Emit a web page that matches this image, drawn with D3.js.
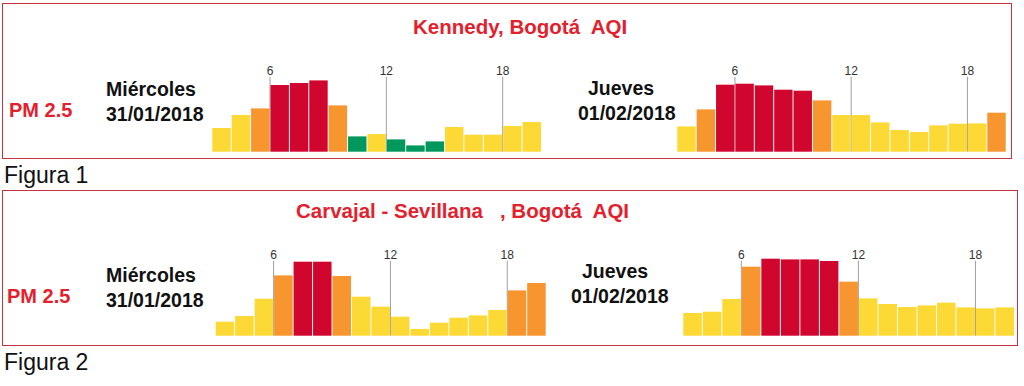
<!DOCTYPE html>
<html>
<head>
<meta charset="utf-8">
<script src="https://cdn.jsdelivr.net/npm/d3@7"></script>
<style>
    body { margin: 0; background: #fff; }
    svg { display: block; font-family: "Liberation Sans", Arial, sans-serif; }
    text { white-space: pre; }
</style>
</head>
<body>
<svg id="chart" width="1024" height="386"></svg>
<script>
// horas mostradas en cada gráfico
const hours = [3, 4, 5, 6, 7, 8, 9, 10, 11, 12, 13, 14, 15, 16, 17, 18, 19];
const tickHours = [6, 12, 18];

// alturas relativas de las barras (índice) y categoría AQI
const kennedyMie = [23.7, 36.7, 43.3, 66.7, 68.7, 71.3, 46.3, 15.3, 17.7, 12.3, 6.3, 10.3, 24.7, 17, 17, 25.7, 29.7];
const kennedyMieCat = ["y", "y", "o", "r", "r", "r", "o", "g", "y", "g", "g", "g", "y", "y", "y", "y", "y"];
const kennedyJue = [25.3, 42.3, 67, 68, 66.3, 62, 61, 51.3, 36.7, 36.7, 29.3, 21.7, 19.7, 26.3, 28, 28.3, 39];
const kennedyJueCat = ["y", "o", "r", "r", "r", "r", "r", "o", "y", "y", "y", "y", "y", "y", "y", "y", "o"];
const carvajalMie = [14, 19.7, 37, 60.3, 74, 74, 59.7, 39, 29, 19, 6.7, 13, 18, 20.3, 25.7, 45.3, 52.7];
const carvajalMieCat = ["y", "y", "y", "o", "r", "r", "o", "y", "y", "y", "y", "y", "y", "y", "y", "o", "o"];
const carvajalJue = [22.7, 24, 36.7, 69, 77, 76.3, 76.3, 74.7, 54, 37.3, 31.7, 28.7, 30.3, 33, 28.3, 27.3, 28.3];
const carvajalJueCat = ["y", "y", "y", "o", "r", "r", "r", "r", "o", "y", "y", "y", "y", "y", "y", "y", "y"];

const catColor = { g: "#00985c", y: "#fcd935", o: "#f7952e", r: "#d1062e" };
const red = "#e3212d";

const svg = d3.select("#chart");

function drawPanel(p) {
    const g = svg.append("g");

    g.append("rect")
        .attr("x", p.box[0] + 0.5)
        .attr("y", p.box[1] + 0.5)
        .attr("width", p.box[2] - p.box[0])
        .attr("height", p.box[3] - p.box[1])
        .attr("fill", "none")
        .attr("stroke", "#c43440")
        .attr("stroke-width", 1);

    g.append("text")
        .attr("x", p.titleX)
        .attr("y", p.titleY)
        .attr("fill", red)
        .attr("font-size", 20.5)
        .attr("font-weight", "bold")
        .text(p.title);

    g.append("text")
        .attr("x", p.pmX)
        .attr("y", p.pmY)
        .attr("fill", red)
        .attr("font-size", 20)
        .attr("font-weight", "bold")
        .text("PM 2.5");

    g.append("text")
        .attr("x", 4)
        .attr("y", p.figY)
        .attr("fill", "#111")
        .attr("font-size", 23)
        .text(p.figura);

    p.days.forEach((d) => drawDay(g, d, p.baseline));
}

function drawDay(g, d, baseline) {
    g.append("text")
        .attr("x", d.labelX)
        .attr("y", d.labelY)
        .attr("fill", "#111")
        .attr("font-size", 19.5)
        .attr("font-weight", "bold")
        .text(d.day);
    g.append("text")
        .attr("x", d.dateX)
        .attr("y", d.labelY + 25)
        .attr("fill", "#111")
        .attr("font-size", 19.5)
        .attr("font-weight", "bold")
        .text(d.date);

    const xScale = d3.scaleBand().domain(hours).range(d.range).paddingInner(0.05);
    const yScale = d3.scaleLinear().domain([0, 80]).range([baseline, baseline - 80]);
    const half = (xScale.step() - xScale.bandwidth()) / 2;

    g.selectAll(null)
        .data(tickHours)
        .join("line")
        .attr("x1", (h) => xScale(h) - half)
        .attr("x2", (h) => xScale(h) - half)
        .attr("y1", baseline - 75)
        .attr("y2", baseline)
        .attr("stroke", "#a0a0a0")
        .attr("stroke-width", 1);

    g.selectAll(null)
        .data(tickHours)
        .join("text")
        .attr("x", (h) => xScale(h) - half)
        .attr("y", baseline - 77)
        .attr("text-anchor", "middle")
        .attr("fill", "#333")
        .attr("font-size", 12)
        .text((h) => h);

    g.selectAll(null)
        .data(hours)
        .join("rect")
        .attr("x", (h) => xScale(h))
        .attr("y", (h, i) => yScale(d.values[i]))
        .attr("width", xScale.bandwidth())
        .attr("height", (h, i) => baseline - yScale(d.values[i]))
        .attr("fill", (h, i) => catColor[d.cats[i]]);
}

drawPanel({
    box: [2, 3, 1011, 158],
    title: "Kennedy, Bogotá  AQI",
    titleX: 413, titleY: 34,
    pmX: 9, pmY: 117,
    figura: "Figura 1", figY: 183,
    baseline: 151.7,
    days: [
        { day: "Miércoles", date: "31/01/2018", labelX: 106, dateX: 106, labelY: 96, range: [212.3, 541], values: kennedyMie, cats: kennedyMieCat },
        { day: "Jueves", date: "01/02/2018", labelX: 588, dateX: 578, labelY: 95, range: [677.3, 1005.7], values: kennedyJue, cats: kennedyJueCat },
    ],
});

drawPanel({
    box: [2, 190, 1017, 345],
    title: "Carvajal - Sevillana   , Bogotá  AQI",
    titleX: 296, titleY: 218,
    pmX: 7, pmY: 303,
    figura: "Figura 2", figY: 370,
    baseline: 335.7,
    days: [
        { day: "Miércoles", date: "31/01/2018", labelX: 106, dateX: 106, labelY: 282, range: [215.7, 545.7], values: carvajalMie, cats: carvajalMieCat },
        { day: "Jueves", date: "01/02/2018", labelX: 582, dateX: 571, labelY: 278, range: [683.3, 1014], values: carvajalJue, cats: carvajalJueCat },
    ],
});
</script>
</body>
</html>
